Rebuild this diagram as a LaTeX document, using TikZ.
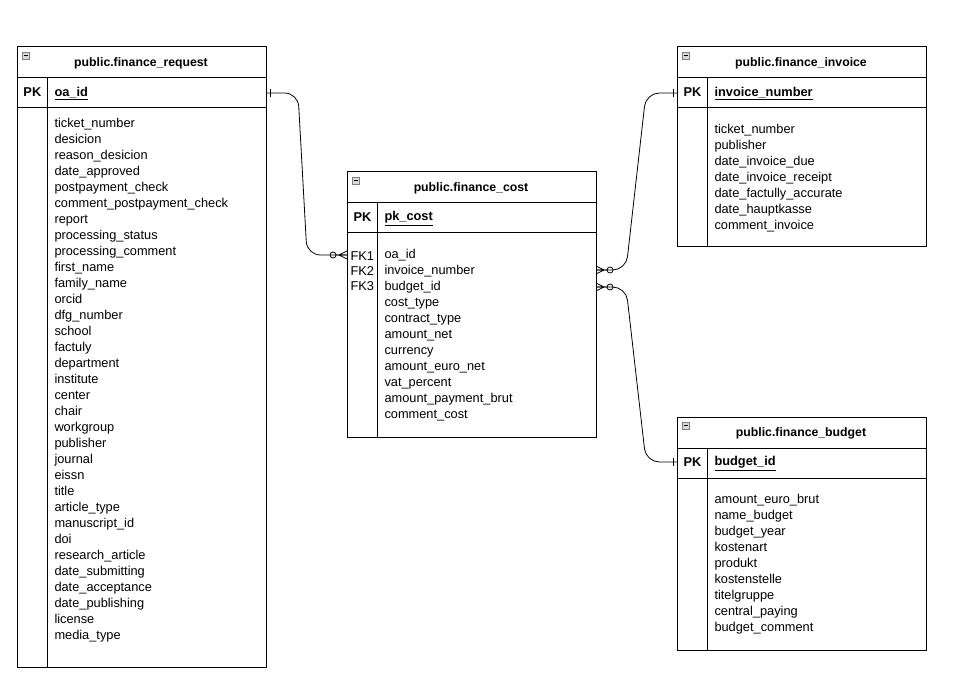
\documentclass[tikz,border=0pt]{standalone}
\usepackage{fontspec}
\setmainfont{Liberation Sans}
\begin{document}
\begin{tikzpicture}[x=0.75pt,y=-0.75pt,line width=0.75pt,
	field/.style={anchor=west,inner sep=0pt,text height=7pt,text depth=2pt,font=\fontsize{9.6}{10}\selectfont},
	title/.style={inner sep=0pt,font=\bfseries\fontsize{9.2}{10}\selectfont},
	pics/zeromany/.style={code={\draw[line width=0.6pt] (-14,0) circle (3) (-11,0)--(0,0) (-8,0)--(0,-4) (-8,0)--(0,4);}},
	pics/one/.style={code={\draw[line width=0.6pt] (-4,-4)--(-4,4);}},
	minus/.style={draw=gray,fill=gray!30,line width=0.5pt}]
	\useasboundingbox (0,0) rectangle (973,698);
	% tables: frame, title row, PK row, key column
	\foreach \n/\x/\y/\h/\t in {req/17/47/620/finance\_request, cost/347/172/265/finance\_cost,
		inv/677/47/200/finance\_invoice, bud/677/417/233/finance\_budget}{
		\draw (\x,\y) rectangle ++(249,\h);
		\draw (\x,\y+31) -- ++(249,0) (\x,\y+61) -- ++(249,0) (\x+30,\y+31) -- (\x+30,\y+\h);
		\draw[minus] (\x+5,\y+5) rectangle ++(7,7);
		\draw[line width=0.5pt] (\x+6.5,\y+8.5) -- ++(4,0);
		\node[title] (\n-title) at (\x+124,\y+16) {public.\t};
		\node[field] (\n-pkl) at (\x+6,\y+46) {\textbf{PK}};
	}
	\node[field] (req-pk) at (54,93) {\textbf{\underline{oa\_id}}};
	\node[field] (cost-pk) at (384,217) {\textbf{\underline{pk\_cost}}};
	\node[field] (inv-pk) at (714,93) {\textbf{\underline{invoice\_number}}};
	\node[field] (bud-pk) at (714,462) {\textbf{\underline{budget\_id}}};
	% fields
	\foreach \f [count=\i from 0] in {ticket\_number,desicion,reason\_desicion,date\_approved,
		postpayment\_check,comment\_postpayment\_check,report,processing\_status,processing\_comment,
		first\_name,family\_name,orcid,dfg\_number,school,factuly,department,institute,center,chair,
		workgroup,publisher,journal,eissn,title,article\_type,manuscript\_id,doi,research\_article,
		date\_submitting,date\_acceptance,date\_publishing,license,media\_type}
		\node[field] (req-\i) at (54,124+16*\i) {\f};
	\foreach \f [count=\i from 0] in {oa\_id,invoice\_number,budget\_id,cost\_type,contract\_type,
		amount\_net,currency,amount\_euro\_net,vat\_percent,amount\_payment\_brut,comment\_cost}
		\node[field] (cost-\i) at (384,255+16*\i) {\f};
	\foreach \k [count=\i from 0] in {FK1,FK2,FK3}
		\node[field] (fk-\i) at (350,257+15*\i) {\k};
	\foreach \f [count=\i from 0] in {ticket\_number,publisher,date\_invoice\_due,date\_invoice\_receipt,
		date\_factully\_accurate,date\_hauptkasse,comment\_invoice}
		\node[field] (inv-\i) at (714,130+16*\i) {\f};
	\foreach \f [count=\i from 0] in {amount\_euro\_brut,name\_budget,budget\_year,kostenart,produkt,
		kostenstelle,titelgruppe,central\_paying,budget\_comment}
		\node[field] (bud-\i) at (714,500+16*\i) {\f};
	% relations
	\coordinate (r1a) at (266,93); \coordinate (r1b) at (347,255);
	\coordinate (r2a) at (596,270); \coordinate (r2b) at (677,93);
	\coordinate (r3a) at (596,287); \coordinate (r3b) at (677,462);
	\draw[line width=0.6pt,rounded corners=10] (r1a) -- (298,93) -- (307,255) -- (r1b);
	\draw[line width=0.6pt,rounded corners=10] (r2a) -- (626,270) -- (646,93) -- (r2b);
	\draw[line width=0.6pt,rounded corners=10] (r3a) -- (626,287) -- (646,462) -- (r3b);
	\pic[rotate=180] at (r1a) {one};
	\pic at (r1b) {zeromany};
	\pic[rotate=180] at (r2a) {zeromany};
	\pic at (r2b) {one};
	\pic[rotate=180] at (r3a) {zeromany};
	\pic at (r3b) {one};
\end{tikzpicture}
\end{document}
